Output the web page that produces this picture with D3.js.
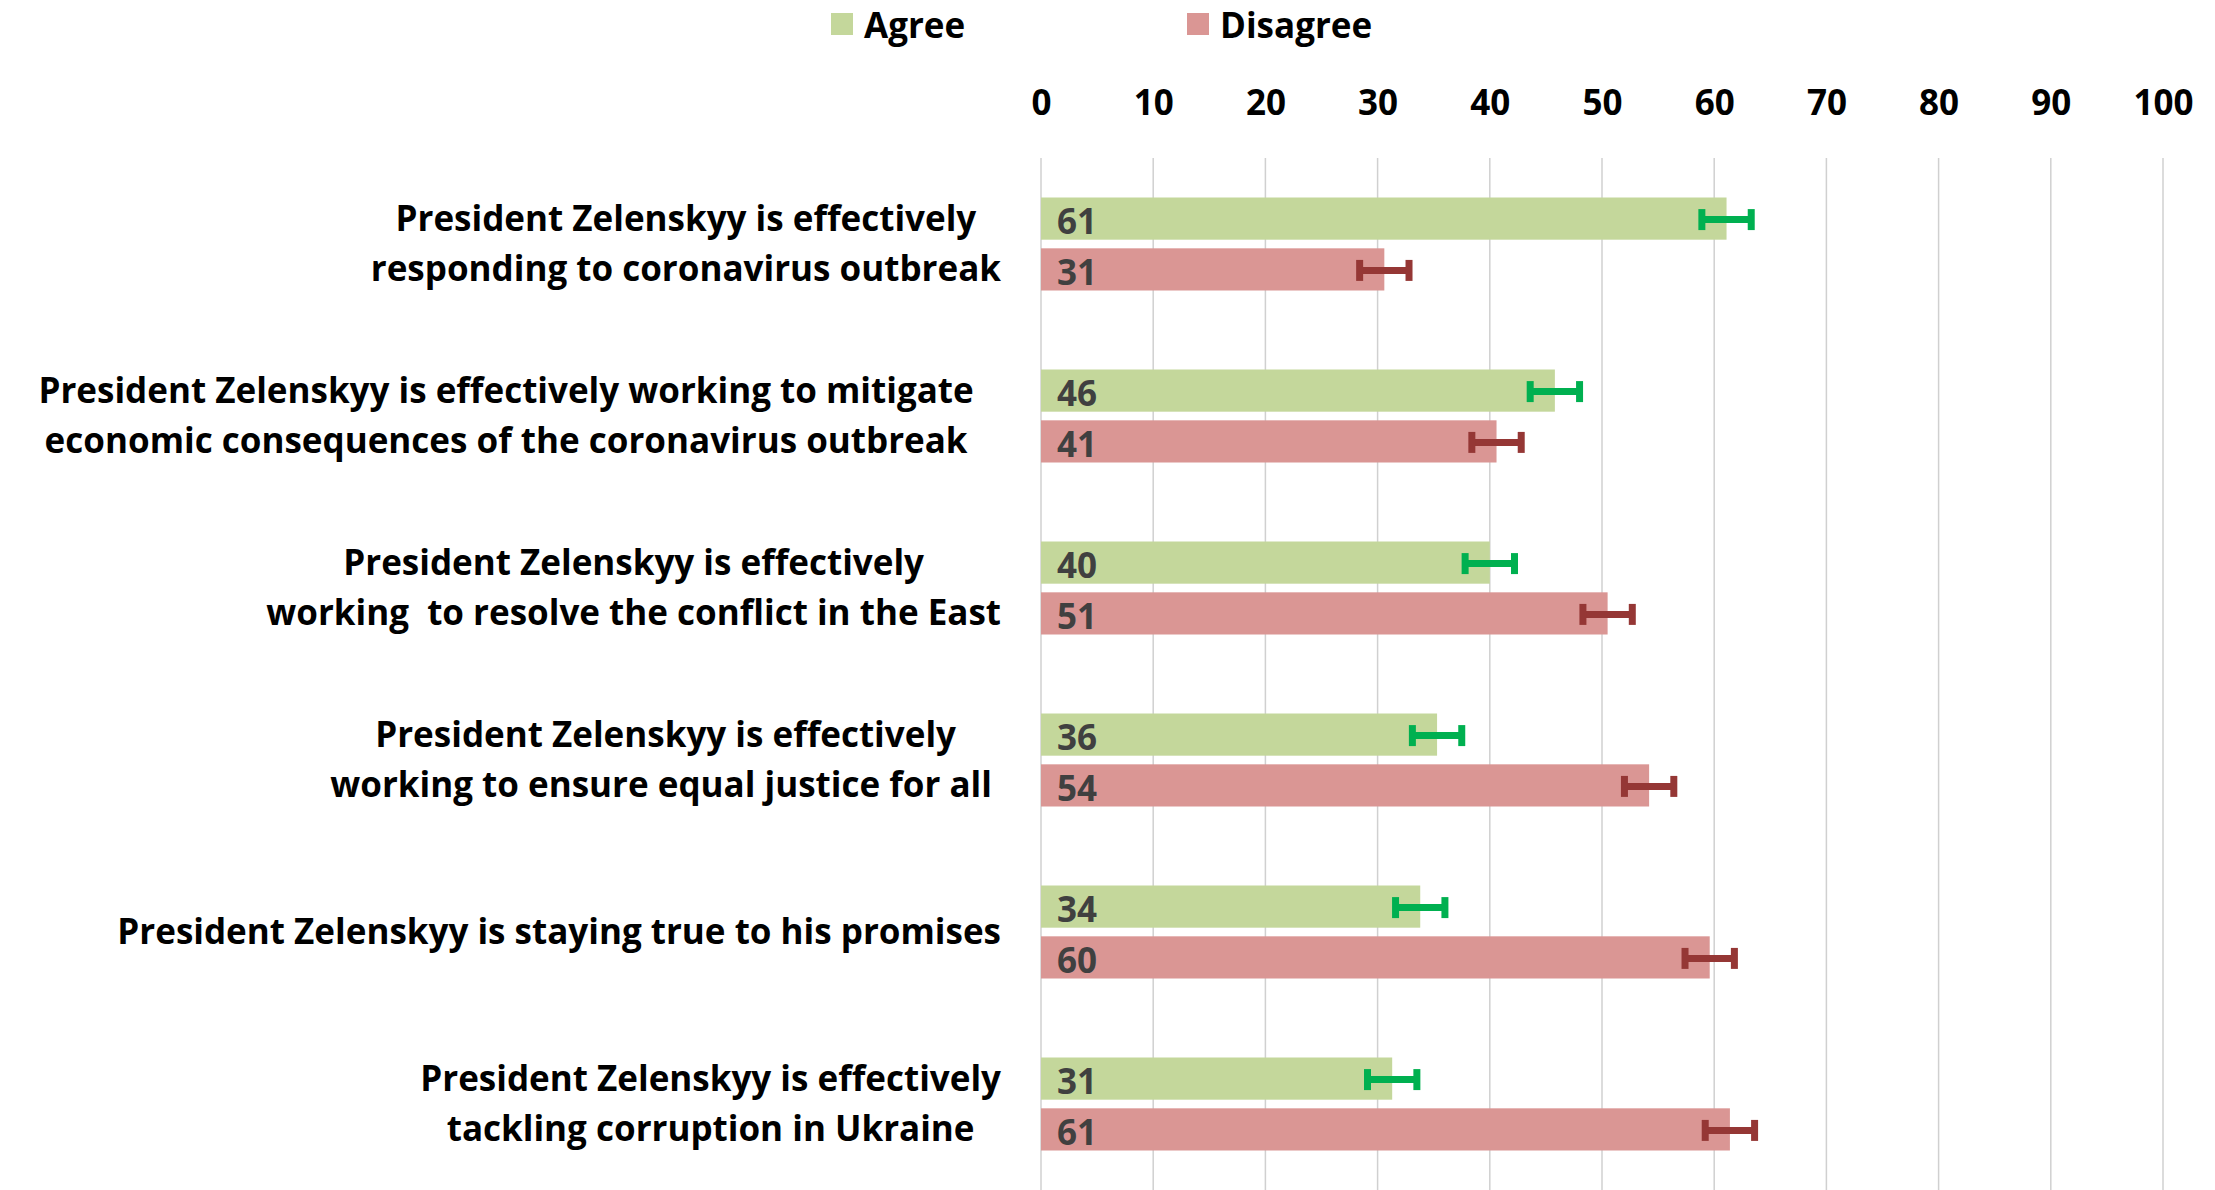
<!DOCTYPE html>
<html>
<head>
<meta charset="utf-8">
<script src="https://cdn.jsdelivr.net/npm/d3@7"></script>
<style>
  body { margin: 0; background: #fff; }
  text { font-family: "Open Sans", Lato, sans-serif; font-weight: bold; white-space: pre; }
</style>
</head>
<body>
<script>
// statements (line breaks as in the original chart)
var categories = [
  "President Zelenskyy is effectively\nresponding to coronavirus outbreak",
  "President Zelenskyy is effectively working to mitigate   \neconomic consequences of the coronavirus outbreak   ",
  "President Zelenskyy is effectively\nworking  to resolve the conflict in the East",
  "President Zelenskyy is effectively\nworking to ensure equal justice for all ",
  "President Zelenskyy is staying true to his promises",
  "President Zelenskyy is effectively\ntackling corruption in Ukraine"
];
var series = ["Agree", "Disagree"];
var agree = [61.1, 45.8, 40.0, 35.3, 33.8, 31.3];
var disagree = [30.6, 40.6, 50.5, 54.2, 59.6, 61.4];
var agreeLabels = [61, 46, 40, 36, 34, 31];
var disagreeLabels = [31, 41, 51, 54, 60, 61];
var margin = 2.2;  // error bar +/-
var ticks = [0, 10, 20, 30, 40, 50, 60, 70, 80, 90, 100];

var colors = {Agree: "#c4d79b", Disagree: "#da9694"};
var errColors = {Agree: "#00b050", Disagree: "#953735"};

var width = 2215, height = 1190;
var fontSize = 35;

var svg = d3.select("body").append("svg")
  .attr("width", width)
  .attr("height", height);

var x = d3.scaleLinear().domain([0, 100]).range([1041, 2163]);
var y = d3.scaleBand().domain(categories).range([158, 1190]);
var ySub = d3.scaleBand().domain(series).range([-46.5, 46.5]).paddingInner(0.17);

// gridlines
svg.append("g")
  .selectAll("line")
  .data(ticks)
  .enter()
  .append("line")
  .attr("x1", function(d) { return x(d); })
  .attr("x2", function(d) { return x(d); })
  .attr("y1", 158)
  .attr("y2", height)
  .attr("stroke", "#d0d0d0")
  .attr("stroke-width", 1.5);

// top axis labels
var axis = svg.append("g")
  .attr("transform", "translate(0,103)")
  .call(d3.axisTop(x).tickValues(ticks).tickSize(0).tickPadding(0));
axis.select(".domain").remove();
axis.selectAll("text")
  .attr("font-family", null)
  .attr("dy", "0.35em")
  .style("font-size", fontSize + "px")
  .attr("fill", "#000");

// build rows
var rows = categories.map(function(c, i) {
  return {cat: c, values: [
    {key: "Agree", value: agree[i], label: agreeLabels[i]},
    {key: "Disagree", value: disagree[i], label: disagreeLabels[i]}
  ]};
});

var group = svg.selectAll(".group")
  .data(rows)
  .enter()
  .append("g")
  .attr("class", "group")
  .attr("transform", function(d) { return "translate(0," + (y(d.cat) + y.bandwidth() / 2) + ")"; });

var bar = group.selectAll(".bar")
  .data(function(d) { return d.values; })
  .enter()
  .append("g")
  .attr("class", "bar")
  .attr("transform", function(d) { return "translate(0," + ySub(d.key) + ")"; });

bar.append("rect")
  .attr("x", x(0))
  .attr("y", 0)
  .attr("width", function(d) { return x(d.value) - x(0); })
  .attr("height", ySub.bandwidth())
  .attr("fill", function(d) { return colors[d.key]; });

// error bars
var h = ySub.bandwidth() / 2 + 1;
bar.append("line")
  .attr("x1", function(d) { return x(d.value - margin); })
  .attr("x2", function(d) { return x(d.value + margin); })
  .attr("y1", h).attr("y2", h)
  .attr("stroke", function(d) { return errColors[d.key]; })
  .attr("stroke-width", 7);
[-1, 1].forEach(function(s) {
  bar.append("line")
    .attr("x1", function(d) { return x(d.value + s * margin); })
    .attr("x2", function(d) { return x(d.value + s * margin); })
    .attr("y1", h - 10.5).attr("y2", h + 10.5)
    .attr("stroke", function(d) { return errColors[d.key]; })
    .attr("stroke-width", 7);
});

// data labels
bar.append("text")
  .attr("x", x(0) + 16)
  .attr("y", h + 2)
  .attr("dy", "0.35em")
  .style("font-size", fontSize + "px")
  .attr("fill", "#404040")
  .text(function(d) { return d.label; });

// category labels, centred block with right edge at 1001
var labelRight = 1001, lineGap = 50;
group.each(function(d) {
  var g = d3.select(this);
  var lines = d.cat.split("\n");
  var t = g.selectAll(".cat")
    .data(lines)
    .enter()
    .append("text")
    .attr("class", "cat")
    .attr("text-anchor", "middle")
    .attr("y", function(l, i) { return (i - (lines.length - 1) / 2) * lineGap; })
    .attr("dy", "0.35em")
    .style("font-size", fontSize + "px")
    .attr("fill", "#000")
    .text(function(l) { return l; });
  var maxW = 0;
  t.each(function() { maxW = Math.max(maxW, this.getComputedTextLength()); });
  t.attr("x", labelRight - maxW / 2);
});

// legend
var legendX = [831, 1187];
var legend = svg.selectAll(".legend")
  .data(series)
  .enter()
  .append("g")
  .attr("class", "legend")
  .attr("transform", function(d, i) { return "translate(" + legendX[i] + ",13)"; });
legend.append("rect")
  .attr("width", 22)
  .attr("height", 22)
  .attr("fill", function(d) { return colors[d]; });
legend.append("text")
  .attr("x", 33)
  .attr("y", 13)
  .attr("dy", "0.35em")
  .style("font-size", fontSize + "px")
  .attr("fill", "#000")
  .text(function(d) { return d; });
</script>
</body>
</html>
